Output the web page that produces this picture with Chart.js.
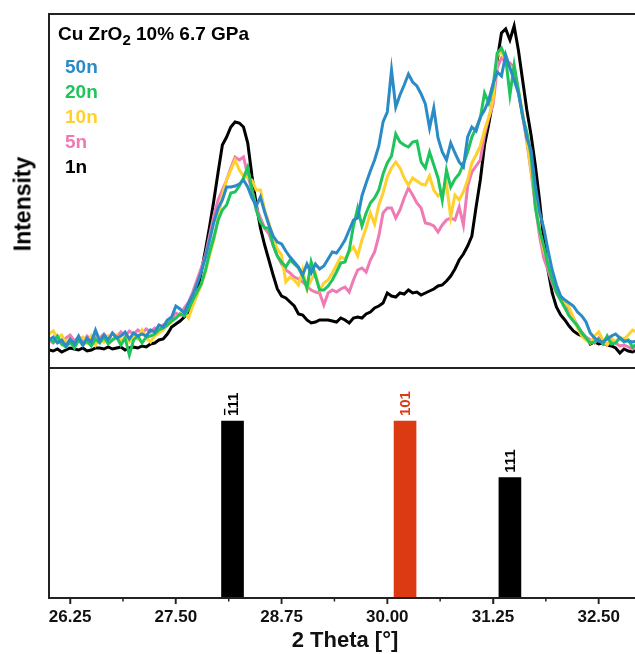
<!DOCTYPE html>
<html lang="en">

<head>
    <meta charset="UTF-8">
    <title>Cu ZrO2 10% 6.7 GPa</title>
    <script src="https://cdn.jsdelivr.net/npm/chart.js"></script>
    <style>
        html, body { margin: 0; padding: 0; overflow: hidden; background: #fff; }
        .grafica { position: relative; width: 645px; height: 654px; }
        .titulo {
            position: absolute; left: 58px; top: 24px;
            font: bold 19px "Liberation Sans", Arial, sans-serif; line-height: 19px;
            white-space: nowrap; color: #000;
        }
        .titulo sub { font-size: 15px; vertical-align: -5px; line-height: 0; }
        .leyenda {
            position: absolute; left: 65px; top: 54px;
            font: bold 19px "Liberation Sans", Arial, sans-serif; line-height: 25px;
        }
        .ejeY {
            position: absolute; left: 23px; top: 204px;
            transform: translate(-50%, -50%) rotate(-90deg);
            font: bold 23px "Liberation Sans", Arial, sans-serif; line-height: 1;
            white-space: nowrap; color: #000;
        }
    </style>
</head>

<body>
    <div class="grafica">
        <canvas id="myChart" width="645" height="654"></canvas>
        <div class="titulo">Cu ZrO<sub>2</sub> 10% 6.7 GPa</div>
        <div class="leyenda" id="leyenda"></div>
        <div class="ejeY">Intensity</div>
    </div>
    <script>
        // 2 Theta (grados) de los barridos
        const twoTheta = [
            26.00, 26.05, 26.10, 26.15, 26.20, 26.25, 26.30, 26.35, 26.40, 26.45, 26.50, 26.55, 26.60, 26.65, 26.70, 26.75, 26.80, 26.85, 26.90, 26.95,
            27.00, 27.05, 27.10, 27.15, 27.20, 27.25, 27.30, 27.35, 27.40, 27.45, 27.50, 27.55, 27.60, 27.65, 27.70, 27.75, 27.80, 27.85, 27.90, 27.95,
            28.00, 28.05, 28.10, 28.15, 28.20, 28.25, 28.30, 28.35, 28.40, 28.45, 28.50, 28.55, 28.60, 28.65, 28.70, 28.75, 28.80, 28.85, 28.90, 28.95,
            29.00, 29.05, 29.10, 29.15, 29.20, 29.25, 29.30, 29.35, 29.40, 29.45, 29.50, 29.55, 29.60, 29.65, 29.70, 29.75, 29.80, 29.85, 29.90, 29.95,
            30.00, 30.05, 30.10, 30.15, 30.20, 30.25, 30.30, 30.35, 30.40, 30.45, 30.50, 30.55, 30.60, 30.65, 30.70, 30.75, 30.80, 30.85, 30.90, 30.95,
            31.00, 31.05, 31.10, 31.15, 31.20, 31.25, 31.30, 31.35, 31.40, 31.45, 31.50, 31.55, 31.60, 31.65, 31.70, 31.75, 31.80, 31.85, 31.90, 31.95,
            32.00, 32.05, 32.10, 32.15, 32.20, 32.25, 32.30, 32.35, 32.40, 32.45, 32.50, 32.55, 32.60, 32.65, 32.70, 32.75, 32.80, 32.85, 32.90, 32.95
        ];

        // Intensidades (unidades arbitrarias)
        const int50n = [
            28, 31, 25, 28, 22, 29, 24, 32, 23, 30, 26, 38, 27, 33, 28, 35, 30, 32, 36, 29,
            35, 32, 34, 32, 38, 36, 43, 41, 48, 51, 62, 59, 55, 65, 73, 84, 96, 111, 128, 146,
            160, 168, 181, 181, 182, 184, 188, 181, 170, 162, 171, 156, 143, 132, 126, 124, 117, 111, 106, 101,
            93, 104, 95, 104, 99, 102, 109, 116, 115, 121, 128, 138, 148, 150, 172, 185, 197, 208, 222, 246,
            256, 298, 261, 273, 283, 294, 286, 282, 274, 264, 240, 260, 230, 216, 208, 225, 215, 206, 201, 231,
            241, 237, 251, 258, 268, 284, 296, 292, 313, 300, 288, 275, 253, 230, 218, 183, 156, 140, 118, 98,
            83, 72, 68, 65, 62, 56, 52, 46, 35, 30, 27, 26, 29, 32, 34, 30, 27, 27, 26, 27
        ];
        const int20n = [
            30, 26, 32, 24, 21, 26, 20, 28, 23, 27, 22, 29, 25, 31, 24, 28, 31, 23, 30, 13,
            28, 32, 25, 31, 32, 34, 38, 40, 43, 47, 50, 54, 52, 59, 68, 76, 84, 98, 116, 131,
            148, 158, 163, 175, 176, 182, 190, 201, 178, 158, 146, 140, 140, 123, 112, 106, 101, 108, 104, 100,
            92, 80, 106, 92, 78, 78, 82, 88, 96, 105, 106, 118, 142, 160, 142, 155, 165, 170, 178, 194,
            205, 212, 234, 226, 223, 221, 226, 227, 206, 200, 216, 203, 190, 168, 198, 181, 189, 194, 204, 216,
            231, 240, 250, 275, 265, 281, 315, 320, 310, 273, 303, 278, 251, 236, 213, 161, 138, 122, 103, 88,
            76, 68, 60, 52, 47, 42, 35, 30, 25, 26, 29, 24, 32, 24, 25, 30, 26, 28, 21, 24
        ];
        const int10n = [
            34, 37, 30, 33, 25, 29, 22, 28, 31, 25, 32, 23, 30, 26, 32, 28, 33, 27, 31, 26,
            32, 29, 38, 30, 26, 32, 35, 38, 43, 46, 50, 54, 56, 50, 62, 73, 83, 96, 113, 128,
            150, 173, 188, 198, 208, 198, 192, 190, 188, 178, 178, 158, 145, 130, 119, 113, 86, 91, 88, 83,
            98, 79, 88, 95, 78, 85, 88, 95, 103, 111, 109, 116, 121, 112, 128, 140, 155, 144, 163, 175,
            191, 200, 206, 200, 190, 183, 190, 187, 184, 183, 192, 178, 172, 176, 184, 151, 173, 168, 176, 188,
            205, 213, 222, 238, 251, 268, 313, 316, 308, 302, 298, 278, 256, 228, 198, 168, 138, 118, 106, 95,
            80, 70, 65, 61, 50, 40, 32, 28, 25, 32, 36, 28, 23, 30, 26, 31, 29, 33, 38, 36
        ];
        const int5n = [
            28, 25, 29, 24, 30, 33, 27, 31, 26, 32, 28, 33, 30, 34, 29, 35, 31, 36, 32, 37,
            34, 38, 35, 39, 36, 40, 38, 43, 45, 50, 55, 53, 60, 66, 76, 88, 100, 113, 133, 153,
            168, 178, 188, 200, 211, 208, 211, 193, 178, 161, 150, 140, 134, 123, 112, 104, 98, 95, 91, 89,
            86, 82, 78, 76, 75, 63, 75, 78, 76, 79, 81, 76, 88, 98, 100, 96, 108, 116, 132, 155,
            160, 160, 150, 158, 170, 180, 173, 165, 160, 145, 144, 142, 136, 143, 148, 150, 148, 161, 143, 182,
            196, 202, 208, 233, 250, 263, 300, 310, 306, 305, 300, 276, 253, 226, 196, 163, 132, 110, 98, 85,
            75, 68, 63, 58, 50, 42, 36, 31, 28, 25, 30, 26, 23, 28, 25, 22, 23, 21, 19, 21
        ];
        const int1n = [
            18, 17, 19, 16, 18, 20, 19, 18, 20, 17, 18, 20, 20, 19, 21, 19, 20, 21, 18, 20,
            21, 20, 22, 21, 24, 25, 28, 29, 34, 41, 44, 47, 51, 56, 64, 74, 96, 118, 142, 168,
            196, 223, 231, 241, 246, 245, 241, 225, 192, 164, 140, 123, 108, 93, 79, 72, 70, 66, 62, 54,
            53, 48, 45, 46, 48, 48, 48, 47, 46, 50, 48, 45, 50, 51, 50, 54, 56, 60, 62, 65,
            75, 72, 71, 75, 74, 78, 75, 76, 73, 75, 77, 79, 82, 83, 87, 92, 99, 108, 114, 122,
            132, 161, 188, 223, 244, 268, 308, 335, 339, 328, 342, 318, 288, 258, 233, 203, 168, 128, 98, 75,
            61, 53, 48, 42, 37, 34, 32, 30, 24, 26, 24, 25, 23, 22, 20, 15, 19, 17, 16, 18
        ];

        const seriesNames = ['50n', '20n', '10n', '5n', '1n'];
        const seriesValues = [int50n, int20n, int10n, int5n, int1n];

        // Reflexiones de referencia (m-ZrO2 / t-ZrO2)
        const refPos = [28.17, 30.21, 31.45];
        const refInt = [100, 100, 68];
        const refHkl = ['-111', '101', '111'];
        const refPhase = ['m', 't', 'm'];

        // Marcas del eje x
        const majorTicks = [26.25, 27.50, 28.75, 30.00, 31.25, 32.50];
        const minorTicks = [26.875, 28.125, 29.375, 30.625, 31.875];

        // Estilos
        const seriesColors = ['#2b8bc6', '#20c45c', '#ffd12e', '#f07ab4', '#000000'];
        const phaseColor = { m: '#000000', t: '#dc3a12' };
        const fuente = '"Liberation Sans", Arial, sans-serif';

        // Leyenda como texto de color
        document.getElementById('leyenda').innerHTML = seriesNames
            .map((n, i) => `<div style="color:${seriesColors[i]}">${n}</div>`).join('');

        /* Marco de los dos paneles, marcas del eje x y etiquetas hkl */
        const marcoPaneles = {
            id: 'marcoPaneles',
            afterDraw(chart) {
                const { ctx, chartArea, scales } = chart;
                const { x, yTop, yBot } = scales;
                ctx.save();
                ctx.strokeStyle = '#222';
                ctx.lineWidth = 2;
                ctx.strokeRect(chartArea.left, yTop.top, chartArea.width, yTop.height);
                ctx.strokeRect(chartArea.left, yBot.top, chartArea.width, yBot.height);

                ctx.lineWidth = 1.5;
                ctx.beginPath();
                majorTicks.forEach(v => {
                    const px = x.getPixelForValue(v);
                    ctx.moveTo(px, x.top);
                    ctx.lineTo(px, x.top + 6);
                });
                minorTicks.forEach(v => {
                    const px = x.getPixelForValue(v);
                    ctx.moveTo(px, x.top);
                    ctx.lineTo(px, x.top + 3.5);
                });
                ctx.stroke();

                const size = 15;
                const capH = size * 0.716;
                ctx.font = `bold ${size}px ${fuente}`;
                refPos.forEach((pos, i) => {
                    const color = phaseColor[refPhase[i]];
                    const barra = refHkl[i].startsWith('-');
                    const texto = refHkl[i].replace('-', '');
                    ctx.save();
                    ctx.translate(x.getPixelForValue(pos), yBot.getPixelForValue(refInt[i]) - 5);
                    ctx.rotate(-Math.PI / 2);
                    ctx.fillStyle = color;
                    ctx.textAlign = 'left';
                    ctx.textBaseline = 'alphabetic';
                    ctx.fillText(texto, 0, capH / 2);
                    if (barra) {
                        const w = ctx.measureText(texto[0]).width;
                        ctx.strokeStyle = color;
                        ctx.lineWidth = 1.4;
                        ctx.beginPath();
                        ctx.moveTo(1, -capH / 2 - 2.5);
                        ctx.lineTo(w - 1, -capH / 2 - 2.5);
                        ctx.stroke();
                    }
                    ctx.restore();
                });
                ctx.restore();
            }
        };

        function confGrafica() {
            const lineas = seriesNames.map((nombre, i) => ({
                label: nombre,
                data: twoTheta.map((t, j) => ({ x: t, y: seriesValues[i][j] })),
                borderColor: seriesColors[i],
                borderWidth: 3,
                pointRadius: 0,
                tension: 0,
                fill: false,
                yAxisID: 'yTop'
            }));
            const barras = {
                type: 'bar',
                label: 'ZrO2',
                data: refPos.map((p, i) => ({ x: p, y: refInt[i] })),
                backgroundColor: refPhase.map(f => phaseColor[f]),
                barThickness: 22,
                borderWidth: 0,
                yAxisID: 'yBot'
            };
            const ocultos = { display: false };
            return {
                type: 'line',
                data: { datasets: [...lineas, barras] },
                options: {
                    responsive: false,
                    animation: false,
                    layout: { padding: { top: 14, right: 4, left: 0, bottom: 0 } },
                    plugins: { legend: ocultos, tooltip: { enabled: false } },
                    scales: {
                        x: {
                            type: 'linear',
                            min: 26,
                            max: 33,
                            offset: false,
                            afterBuildTicks: s => { s.ticks = majorTicks.map(v => ({ value: v })); },
                            afterFit: s => { s.height = 56; },
                            ticks: {
                                callback: v => v.toFixed(2),
                                autoSkip: false,
                                maxRotation: 0,
                                padding: 3,
                                color: '#111',
                                font: { family: fuente, size: 17, weight: 'bold' }
                            },
                            grid: {
                                display: true,
                                offset: false,
                                drawOnChartArea: false,
                                drawTicks: true,
                                tickLength: 6,
                                tickColor: '#222',
                                tickWidth: 1.5
                            },
                            border: ocultos,
                            title: {
                                display: true,
                                text: '2 Theta [°]',
                                color: '#111',
                                padding: { top: 0, bottom: 0 },
                                font: { family: fuente, size: 22, weight: 'bold' }
                            }
                        },
                        yTop: {
                            type: 'linear',
                            position: 'left',
                            stack: 'paneles',
                            stackWeight: 354,
                            weight: 2,
                            min: 0,
                            max: 354,
                            afterFit: s => { s.width = 49; },
                            ticks: ocultos,
                            grid: ocultos,
                            border: ocultos
                        },
                        yBot: {
                            type: 'linear',
                            position: 'left',
                            stack: 'paneles',
                            stackWeight: 230,
                            weight: 1,
                            min: 0,
                            max: 130,
                            afterFit: s => { s.width = 49; },
                            ticks: ocultos,
                            grid: ocultos,
                            border: ocultos
                        }
                    }
                },
                plugins: [marcoPaneles]
            };
        }

        new Chart(document.getElementById('myChart'), confGrafica());
    </script>
</body>

</html>
